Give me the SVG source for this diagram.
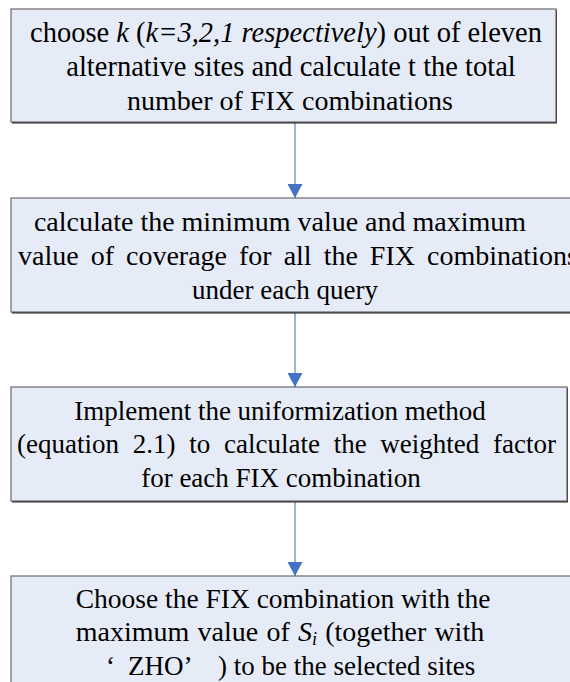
<svg xmlns="http://www.w3.org/2000/svg" width="570" height="682" viewBox="0 0 570 682">
  <defs>
    <style>
      .shadow { fill: #1f1f1f; }
      .box { fill: #E6ECF7; stroke: #6a6a6a; stroke-width: 1.2; }
      .label { font-family: "Liberation Serif", "Times New Roman", serif; fill: #000; text-anchor: middle; }
      .left { text-anchor: start; }
      .it { font-style: italic; }
      .conn { stroke: #5B82C8; stroke-width: 1.2; fill: none; }
    </style>
    <marker id="arrow" markerWidth="14" markerHeight="15" refX="14" refY="7.5" orient="auto" markerUnits="userSpaceOnUse">
      <path d="M0,0 L14,7.5 L0,15 Z" fill="#4472C4"/>
    </marker>
  </defs>

  <!-- connectors between the steps -->
  <g id="connectors">
    <line class="conn" x1="295" y1="122" x2="295" y2="198" marker-end="url(#arrow)"/>
    <line class="conn" x1="295" y1="312" x2="295" y2="387" marker-end="url(#arrow)"/>
    <line class="conn" x1="295" y1="501" x2="295" y2="576" marker-end="url(#arrow)"/>
  </g>

  <!-- step 1 -->
  <g id="step1" font-size="28">
    <rect class="shadow" x="12" y="10" width="545" height="113.5"/>
    <rect class="box" x="11" y="9" width="545" height="113"/>
    <text class="label" x="286" y="42" font-size="28.5">choose <tspan class="it">k</tspan> (<tspan class="it">k=3,2,1 respectively</tspan>) out of eleven</text>
    <text class="label" x="291" y="76" font-size="28.5">alternative sites and calculate t the total</text>
    <text class="label" x="290" y="110">number of FIX combinations</text>
  </g>

  <!-- step 2 -->
  <g id="step2" font-size="28">
    <rect class="shadow" x="12" y="199" width="580" height="114.5"/>
    <rect class="box" x="11" y="198" width="580" height="114"/>
    <text class="label" x="280" y="231">calculate the minimum value and maximum</text>
    <text class="label left" x="18" y="265" word-spacing="5">value of coverage for all the FIX combinations</text>
    <text class="label" x="285" y="299" font-size="27">under each query</text>
  </g>

  <!-- step 3 -->
  <g id="step3" font-size="27">
    <rect class="shadow" x="12" y="388" width="556" height="114.5"/>
    <rect class="box" x="11" y="387" width="556" height="114"/>
    <text class="label" x="280" y="420">Implement the uniformization method</text>
    <text class="label left" x="17" y="453" word-spacing="7">(equation 2.1) to calculate the weighted factor</text>
    <text class="label" x="281" y="487">for each FIX combination</text>
  </g>

  <!-- step 4 -->
  <g id="step4" font-size="27.5">
    <rect class="shadow" x="12" y="577" width="580" height="120"/>
    <rect class="box" x="11" y="576" width="580" height="120"/>
    <text class="label" x="283" y="608">Choose the FIX combination with the</text>
    <text class="label" x="280" y="641" font-size="28" word-spacing="1.2">maximum value of <tspan class="it">S</tspan><tspan class="it" font-size="18" dy="4">i</tspan><tspan dy="-4">  (together with</tspan></text>
    <text class="label left" y="675" font-size="27"><tspan x="106">‘</tspan><tspan x="128">ZHO’</tspan><tspan x="218">) to be the selected sites</tspan></text>
  </g>
</svg>
